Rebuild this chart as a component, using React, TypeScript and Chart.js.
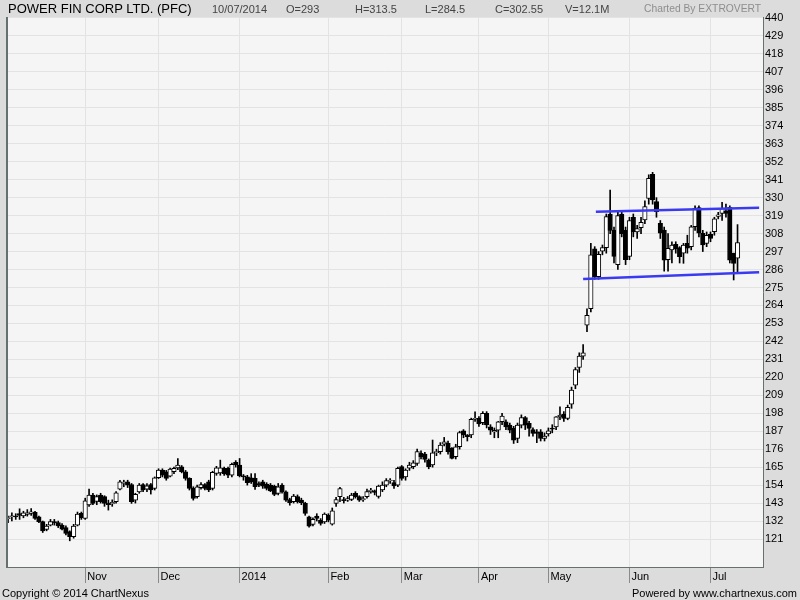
import React, { useEffect, useRef } from "react";
import { Chart, registerables } from "chart.js";

Chart.register(...registerables);

// Daily candles, index 0 = early Oct 2013 ... index 189 = 10/07/2014
const opens = [
  133.5, 134.6, 135, 136.5, 135.1, 136.1, 136.7, 137.3, 134.6, 131.6,
  126.9, 129.5, 131.6, 131, 129.5, 128, 125.5, 122.4, 129.5, 136.7,
  133.6, 141.8, 147.9, 144, 147.9, 146.9, 143, 142.5, 143.8, 151.5,
  155, 156, 154.4, 144.8, 149.9, 154.4, 151.5, 154.4, 152, 158.5,
  163.2, 162.2, 159.5, 162.2, 164.6, 165.2, 162.2, 158.1, 152, 146.9,
  152.4, 154.4, 156, 152, 161.2, 161.5, 164.2, 164.2, 160.1, 167.9,
  166.3, 159.5, 159, 158.5, 158.1, 155, 156, 154.6, 154, 153.4,
  148.9, 154, 149.9, 145.2, 143.8, 146.9, 144.8, 142.8, 134.6, 129.9,
  135, 132.6, 131.5, 135.6, 130.1, 142.8, 146.9, 145.2, 144.8, 145.2,
  148.9, 146.9, 145, 146.9, 150, 150.5, 147, 151, 154, 156.5,
  155.5, 154, 165.3, 159, 164.3, 165.3, 167.3, 173.4, 173, 169.4,
  166.3, 173.8, 174.5, 179.1, 179.6, 176.5, 171.4, 177.5, 187.3, 184.7,
  184.7, 194.3, 194.9, 192.2, 197.9, 189.7, 186.5, 187.7, 192.8, 192.8,
  190.7, 188.7, 182.6, 190.7, 195.4, 191.8, 188, 186.6, 186.6, 182.6,
  185.4, 188.7, 189.7, 195.8, 197.5, 194.8, 203.6, 215.2, 226, 233,
  252, 262, 298.6, 281.6, 297.3, 299.4, 320, 310, 289, 320,
  310, 294, 318, 309, 311.6, 316.3, 329.6, 344.3, 327.6, 314.3,
  310.2, 292, 298, 301.4, 299.4, 296, 302, 300, 312.2, 323.9,
  308.2, 302, 307.5, 309.2, 318.5, 320.4, 321.8, 324, 296, 293,
];
const highs = [
  135, 137, 136.5, 139.5, 138, 139, 139.7, 138, 135, 132,
  130, 133, 133, 132, 130.5, 129, 126, 130, 137.5, 137.5,
  146, 151.6, 149, 148, 149, 147.5, 144.8, 145, 150, 157,
  157, 157, 155, 149, 155, 155, 155, 155, 159, 164,
  164, 163, 164.5, 165, 170.3, 166, 163, 158.5, 153, 154,
  155.5, 155, 157, 162.5, 165.5, 169.3, 165, 165, 167.5, 169,
  170.3, 160.5, 160, 161, 161, 156, 157, 155.5, 155, 154,
  155, 155, 150.5, 146, 148.3, 148, 146, 143.5, 135, 134,
  136.5, 133.5, 137, 136.5, 140, 146.5, 152.6, 146.5, 147, 149,
  150, 147.5, 147, 151.5, 152, 151, 154, 156, 158, 158,
  157, 165, 166, 164, 168, 169, 176, 175, 174, 170,
  181.6, 176, 180, 183.2, 181, 177, 179, 187, 188, 185,
  195, 198.9, 196, 199, 199, 191, 189, 193, 198, 194,
  192, 190, 192, 197, 196, 193, 189, 188, 188, 186,
  189, 191, 196, 202, 199, 203, 214, 226, 235, 240,
  262, 302, 300, 297, 301, 320, 334.7, 312, 322, 322,
  312, 318, 320, 313, 318, 328, 344, 345.5, 330, 316,
  312, 308, 303, 303, 300, 302, 307, 313, 325, 325,
  310, 309, 309, 318, 321, 327.1, 326, 325, 296, 313.5,
];
const lows = [
  131, 132, 133, 133, 134, 135, 135.5, 133, 131, 125,
  126, 129, 129.5, 128, 126.5, 123.5, 119.9, 121.5, 129, 133,
  133, 141, 142, 142, 143, 141, 138.7, 141, 143, 151,
  153, 152.5, 142.8, 143, 149, 150, 150, 148.5, 151, 158,
  159, 157, 159, 161, 163.5, 161.5, 157, 151, 144.8, 146,
  151.5, 151, 150, 151, 160, 160, 160, 158.5, 159, 165,
  159, 157, 154, 155, 151.3, 153, 152, 151, 150, 147.5,
  148, 149, 144, 141.7, 143, 143, 142, 135.5, 128.3, 129,
  132, 129.5, 130.5, 131.5, 129.5, 141, 143.8, 143, 144, 144.5,
  146, 144, 144, 146, 149, 148, 146, 150, 153, 155,
  152, 153, 157, 157, 163, 164, 166, 170, 168, 164,
  165, 172, 173, 178, 173, 170, 170, 176, 183, 181,
  183, 193, 190, 191, 189, 185, 183, 183, 191, 188,
  186, 179.5, 180, 189, 188, 184, 184, 180, 181, 181,
  184, 186, 188, 194, 193, 194, 201, 213, 223, 231,
  248, 260, 280, 280, 295, 296, 308, 290, 286, 306,
  289, 292, 306, 305, 308, 314, 326, 326, 318, 305,
  285, 285, 290, 296, 290, 289.8, 296, 298, 310, 306,
  297, 300, 303, 307, 317, 316, 318, 290, 279.6, 284.5,
];
const closes = [
  134, 135.2, 134.5, 135.5, 137.1, 137.1, 137.7, 133.6, 131.6, 125.9,
  128.9, 131.6, 130.8, 129, 127, 124.4, 122.4, 128.9, 136.3, 134,
  144.4, 147.9, 142.8, 147, 143.8, 142.8, 142, 143.5, 149.3, 156,
  155.8, 154, 143.8, 148.3, 154, 151, 153.5, 151, 158.5, 163.2,
  160.1, 158.1, 163.8, 164.2, 166.3, 162.2, 158.1, 152, 145.8, 153,
  154.4, 152, 151, 161.8, 164.6, 164.6, 161, 160.1, 166.7, 166.3,
  159.7, 159, 155.5, 156, 153, 154, 153.4, 152, 150.5, 148.3,
  153, 149.9, 144.8, 143.2, 147.3, 143.8, 143.2, 136.6, 128.9, 133,
  133.6, 130.5, 136.2, 132.6, 138.3, 145.2, 151.9, 144.4, 145.8, 147.9,
  146.9, 144.8, 145.8, 150, 151, 149.5, 153.4, 154, 156.7, 157,
  153.5, 164.3, 158.1, 163.2, 166.3, 167.7, 174.5, 171.4, 169.8, 165.3,
  173.8, 174.5, 178.5, 180.5, 174.5, 170.4, 177.5, 186.1, 184.7, 183.7,
  194.3, 194.9, 191.4, 197.9, 190.8, 187.7, 187.5, 192.8, 196.2, 189.7,
  187.7, 181.5, 190.7, 195.4, 190.7, 188.7, 185.6, 185.6, 182.6, 184,
  187.3, 188.3, 195.8, 196.8, 194.8, 201.6, 212.2, 224.8, 233, 235,
  258, 295, 281.6, 295.3, 299.4, 318.4, 310, 294, 319, 308,
  292, 316, 309, 311, 314.9, 324.5, 341.8, 328.6, 321.4, 308.2,
  291.8, 299, 301, 298.6, 293.9, 301, 299, 312.2, 323.5, 308.2,
  301, 307, 305, 317, 319.5, 323.5, 320.4, 291.8, 289.8, 302.55,
];

const yTickValues = [
  121, 132, 143, 154, 165, 176, 187, 198, 209, 220, 231, 242, 253, 264, 275,
  286, 297, 308, 319, 330, 341, 352, 363, 374, 385, 396, 407, 418, 429, 440,
];
const monthLabels = ["Nov", "Dec", "2014", "Feb", "Mar", "Apr", "May", "Jun", "Jul"];
const monthStartIndex = [20, 39, 60, 83, 102, 122, 140, 161, 182];

// Channel lines drawn on the chart (x = candle index, y = price)
const upperTrendX = [152.3, 194.6];
const upperTrendY = [321.4, 323.8];
const lowerTrendX = [149, 194.6];
const lowerTrendY = [280.2, 284.3];

const headerTitle = "POWER FIN CORP LTD. (PFC)";
const headerDate = "10/07/2014";
const headerOpen = "O=293";
const headerHigh = "H=313.5";
const headerLow = "L=284.5";
const headerClose = "C=302.55";
const headerVolume = "V=12.1M";
const headerCredit = "Charted By EXTROVERT";
const footerLeft = "Copyright © 2014 ChartNexus";
const footerRight = "Powered by www.chartnexus.com";

const FONT = "'Liberation Sans', Arial, Helvetica, sans-serif";

const framePlugin = {
  id: "frame",
  beforeDraw(chart: any) {
    const { ctx, chartArea: a, width, height } = chart;
    ctx.save();
    ctx.fillStyle = "#dcdcdc";
    ctx.fillRect(0, 0, width, height);
    ctx.fillStyle = "#f5f5f5";
    ctx.fillRect(a.left, a.top, a.right - a.left, a.bottom - a.top);
    ctx.restore();
  },
  afterDraw(chart: any) {
    const { ctx, chartArea: a } = chart;
    ctx.save();
    ctx.fillStyle = "#66716f";
    ctx.fillRect(a.left, a.top, 2, a.bottom - a.top);
    ctx.restore();
  },
};

export default function App() {
  const canvasRef = useRef<HTMLCanvasElement | null>(null);

  useEffect(() => {
    const canvas = canvasRef.current;
    if (!canvas) return;
    const idx = closes.map((_, i) => i);
    const wickData = idx.map((i) => ({ x: i, y: [lows[i], highs[i]] }));
    const bodyData = idx.map((i) => ({
      x: i,
      y: [Math.min(opens[i], closes[i]), Math.max(opens[i], closes[i])],
    }));
    const bodyFill = idx.map((i) => (closes[i] >= opens[i] ? "#ffffff" : "#000000"));
    const upper = upperTrendX.map((x, i) => ({ x, y: upperTrendY[i] }));
    const lower = lowerTrendX.map((x, i) => ({ x, y: lowerTrendY[i] }));

    const chart = new Chart(canvas, {
      type: "bar",
      data: {
        datasets: [
          {
            type: "line",
            data: upper,
            borderColor: "#3a3af2",
            borderWidth: 2.5,
            pointRadius: 0,
            order: 0,
          } as any,
          {
            type: "line",
            data: lower,
            borderColor: "#3a3af2",
            borderWidth: 2.5,
            pointRadius: 0,
            order: 0,
          } as any,
          {
            type: "bar",
            data: bodyData,
            backgroundColor: bodyFill,
            borderColor: "#000000",
            borderWidth: 1,
            borderSkipped: false,
            barThickness: 4.5,
            grouped: false,
            minBarLength: 1,
            order: 1,
          } as any,
          {
            type: "bar",
            data: wickData,
            backgroundColor: "#000000",
            borderWidth: 0,
            barThickness: 1,
            grouped: false,
            order: 2,
          } as any,
        ],
      },
      options: {
        animation: false,
        responsive: false,
        maintainAspectRatio: false,
        devicePixelRatio: 1,
        layout: { padding: { left: 6, top: 17, right: 0, bottom: 0 } },
        plugins: {
          legend: { display: false },
          tooltip: { enabled: false },
        },
        scales: {
          x: {
            type: "linear",
            min: -0.52,
            max: 195.6,
            offset: false,
            grid: {
              offset: false,
              color: "#e3e3e3",
              tickColor: "#8a8a8a",
              tickLength: 16,
              drawTicks: true,
            },
            border: { display: true, color: "#66716f", width: 1 },
            afterBuildTicks: (s: any) => {
              s.ticks = monthStartIndex.map((v) => ({ value: v }));
            },
            ticks: {
              autoSkip: false,
              maxRotation: 0,
              minRotation: 0,
              align: "start",
              labelOffset: 2,
              padding: -13,
              color: "#000000",
              font: { family: FONT, size: 11 },
              callback: (_v: any, i: number) => monthLabels[i] ?? "",
            },
            afterFit: (s: any) => {
              s.height = 33;
            },
          } as any,
          y: {
            type: "linear",
            position: "right",
            min: 103.86,
            max: 440.61,
            grid: { color: "#e3e3e3", drawTicks: false },
            border: { display: true, color: "#66716f", width: 1 },
            afterBuildTicks: (s: any) => {
              s.ticks = yTickValues.map((v) => ({ value: v }));
            },
            ticks: {
              padding: 2,
              color: "#000000",
              font: { family: FONT, size: 11 },
              callback: (v: any) => String(v),
            },
            afterFit: (s: any) => {
              s.width = 37;
            },
          } as any,
        },
      },
      plugins: [framePlugin],
    });
    return () => chart.destroy();
  }, []);

  const txt = (left: number, top: number, size: number, color: string, s: string) => (
    <span
      style={{
        position: "absolute",
        left,
        top,
        fontFamily: FONT,
        fontSize: size,
        lineHeight: `${size}px`,
        color,
        whiteSpace: "nowrap",
      }}
    >
      {s}
    </span>
  );

  return (
    <div
      style={{
        position: "fixed",
        left: 0,
        top: 0,
        width: 800,
        height: 600,
        background: "#dcdcdc",
        overflow: "hidden",
      }}
    >
      <canvas
        ref={canvasRef}
        width={800}
        height={600}
        style={{ position: "absolute", left: 0, top: 0, width: 800, height: 600, display: "block" }}
      />
      {txt(8, 2, 13, "#000000", headerTitle)}
      {txt(212, 3.5, 11, "#444444", headerDate)}
      {txt(286, 3.5, 11, "#444444", headerOpen)}
      {txt(355, 3.5, 11, "#444444", headerHigh)}
      {txt(425, 3.5, 11, "#444444", headerLow)}
      {txt(495, 3.5, 11, "#444444", headerClose)}
      {txt(565, 3.5, 11, "#444444", headerVolume)}
      {txt(644, 4, 10.3, "#8e8e8e", headerCredit)}
      {txt(2, 588, 11, "#000000", footerLeft)}
      <span
        style={{
          position: "absolute",
          right: 3,
          top: 588,
          fontFamily: FONT,
          fontSize: 11,
          lineHeight: "11px",
          color: "#000000",
          whiteSpace: "nowrap",
        }}
      >
        {footerRight}
      </span>
    </div>
  );
}
